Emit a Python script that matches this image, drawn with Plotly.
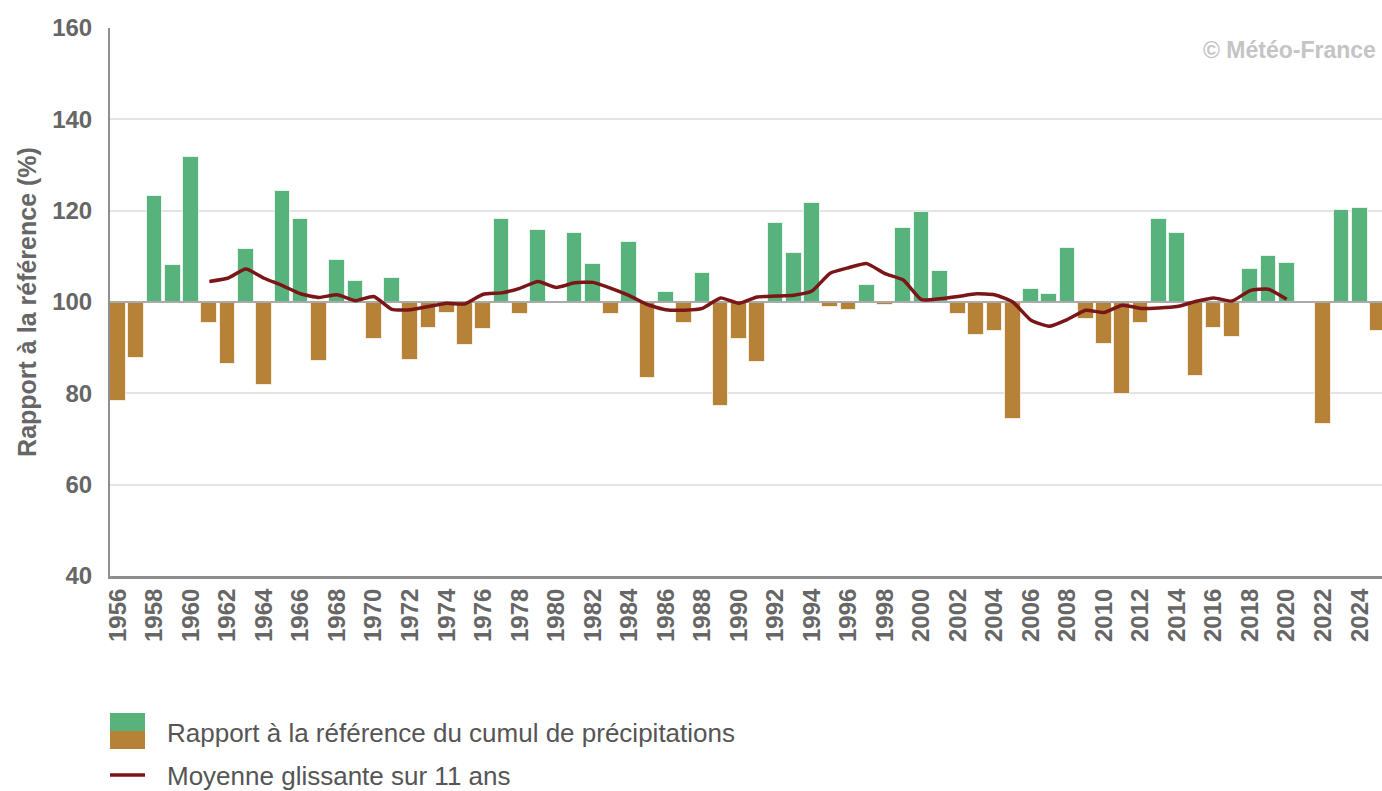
import plotly.graph_objects as go

# ---------------- data ----------------
years = list(range(1956, 2026))
ratio = [
    78.3, 87.8, 123.2, 108.2, 131.7, 95.4, 86.4, 111.6, 81.9, 124.2,   # 1956-1965
    118.2, 87.0, 109.2, 104.6, 91.8, 105.2, 87.4, 94.4, 97.5, 90.5,    # 1966-1975
    94.0, 118.2, 97.4, 115.7, 100.1, 115.2, 108.3, 97.4, 113.2, 83.4,  # 1976-1985
    102.2, 95.4, 106.3, 77.2, 91.8, 86.9, 117.3, 110.7, 121.7, 98.9,   # 1986-1995
    98.3, 103.7, 99.4, 116.2, 119.7, 106.8, 97.3, 92.8, 93.7, 74.3,    # 1996-2005
    102.8, 101.7, 111.8, 96.3, 90.8, 79.8, 95.4, 118.2, 115.2, 83.8,   # 2006-2015
    94.3, 92.3, 107.2, 110.1, 108.6, 100.0, 73.2, 120.1, 120.6, 93.7,  # 2016-2025
]
ma_years = list(range(1961, 2021))
ma_values = [
    104.5, 105.2, 107.2, 105.2, 103.6, 101.8, 101.0, 101.6, 100.3, 101.2,  # 1961-1970
    98.4, 98.3, 99.0, 99.7, 99.6, 101.7, 102.0, 103.0, 104.5, 103.2,      # 1971-1980
    104.2, 104.3, 103.0, 101.4, 99.4, 98.3, 98.2, 98.6, 100.9, 99.7,      # 1981-1990
    101.1, 101.3, 101.5, 102.4, 106.3, 107.5, 108.4, 106.2, 104.8, 100.5, # 1991-2000
    100.7, 101.2, 101.8, 101.6, 100.0, 96.0, 94.7, 96.2, 98.2, 97.7,      # 2001-2010
    99.3, 98.6, 98.7, 99.0, 100.1, 100.9, 100.2, 102.5, 102.8, 100.6,     # 2011-2020
]
REFERENCE = 100
tick_years = list(range(1956, 2025, 2))

bar_name = "Rapport à la référence du cumul de précipitations"
ma_name = "Moyenne glissante sur 11 ans"
y_title = "Rapport à la référence (%)"
watermark = "© Météo-France"

# ---------------- style ----------------
GREEN = "#57b37b"
BROWN = "#b58237"
LINE = "#7a1518"
GRAY_TXT = "#666666"
FONT = "Liberation Sans, Arial, sans-serif"

W, H = 1382, 791
ML, MR, MT, MB = 110, 0, 28, 215
plot_w = W - ML - MR
plot_h = H - MT - MB


def px_x(px):
    return (px - ML) / plot_w


def px_y(py):
    return (H - MB - py) / plot_h


colors = [GREEN if v >= REFERENCE else BROWN for v in ratio]

fig = go.Figure()
fig.add_trace(go.Bar(
    x=years,
    y=[v - REFERENCE for v in ratio],
    base=REFERENCE,
    width=0.86,
    marker=dict(color=colors, line=dict(color="rgba(255,255,255,0.7)", width=1)),
    name=bar_name,
    showlegend=False,
))
# reference line at 100 (axis of the bars)
fig.add_trace(go.Scatter(
    x=[years[0] - 1, years[-1] + 1],
    y=[REFERENCE, REFERENCE],
    mode="lines",
    line=dict(color="#aaaaaa", width=2),
    hoverinfo="skip",
    showlegend=False,
))
fig.add_trace(go.Scatter(
    x=ma_years,
    y=ma_values,
    mode="lines",
    line=dict(color=LINE, width=3.5, shape="spline", smoothing=0.5),
    name=ma_name,
    showlegend=False,
))

# manual legend
sw_x0, sw_x1 = px_x(110), px_x(145)
fig.add_shape(type="rect", xref="paper", yref="paper",
              x0=sw_x0, x1=sw_x1, y0=px_y(731), y1=px_y(713),
              fillcolor=GREEN, line=dict(width=0))
fig.add_shape(type="rect", xref="paper", yref="paper",
              x0=sw_x0, x1=sw_x1, y0=px_y(749), y1=px_y(731),
              fillcolor=BROWN, line=dict(width=0))
fig.add_shape(type="line", xref="paper", yref="paper",
              x0=sw_x0, x1=sw_x1, y0=px_y(775), y1=px_y(775),
              line=dict(color=LINE, width=3.5))
fig.add_annotation(xref="paper", yref="paper", x=px_x(165), y=px_y(733),
                   text=bar_name, showarrow=False, xanchor="left", yanchor="middle",
                   font=dict(family=FONT, size=26, color="#555555"))
fig.add_annotation(xref="paper", yref="paper", x=px_x(165), y=px_y(776),
                   text=ma_name, showarrow=False, xanchor="left", yanchor="middle",
                   font=dict(family=FONT, size=26, color="#555555"))
# watermark
fig.add_annotation(xref="paper", yref="paper", x=px_x(1378), y=px_y(50),
                   text="<b>" + watermark + "</b>", showarrow=False,
                   xanchor="right", yanchor="middle", xshift=0,
                   font=dict(family=FONT, size=23, color="#c4c4c4"))

fig.update_layout(
    width=W, height=H,
    margin=dict(l=ML, r=MR, t=MT, b=MB, pad=0),
    paper_bgcolor="white",
    plot_bgcolor="white",
    font=dict(family=FONT, color=GRAY_TXT),
    bargap=0,
    xaxis=dict(
        range=[1955.56, 2025.22],
        tickmode="array",
        tickvals=tick_years,
        ticktext=[str(y) for y in tick_years],
        tickangle=-90,
        tickfont=dict(family=FONT, size=24, color=GRAY_TXT, weight="bold"),
        showgrid=False,
        showline=True,
        linecolor="#8f8f8f",
        linewidth=3,
        ticks="",
        ticklabelstandoff=0,
        zeroline=False,
        fixedrange=True,
    ),
    yaxis=dict(
        range=[40, 160],
        dtick=20,
        tick0=40,
        tickfont=dict(family=FONT, size=24, color=GRAY_TXT, weight="bold"),
        showgrid=True,
        gridcolor="#e4e4e4",
        gridwidth=2,
        showline=True,
        linecolor="#8f8f8f",
        linewidth=2,
        ticks="",
        ticklabelstandoff=11,
        zeroline=False,
        title=dict(text=y_title, font=dict(family=FONT, size=25, color=GRAY_TXT, weight="bold"),
                   standoff=8),
        fixedrange=True,
    ),
)

fig.write_html(
    "out.html",
    config={"displayModeBar": False},
    post_script="document.body.style.margin='0';document.body.style.padding='0';document.body.style.overflow='hidden';",
)
